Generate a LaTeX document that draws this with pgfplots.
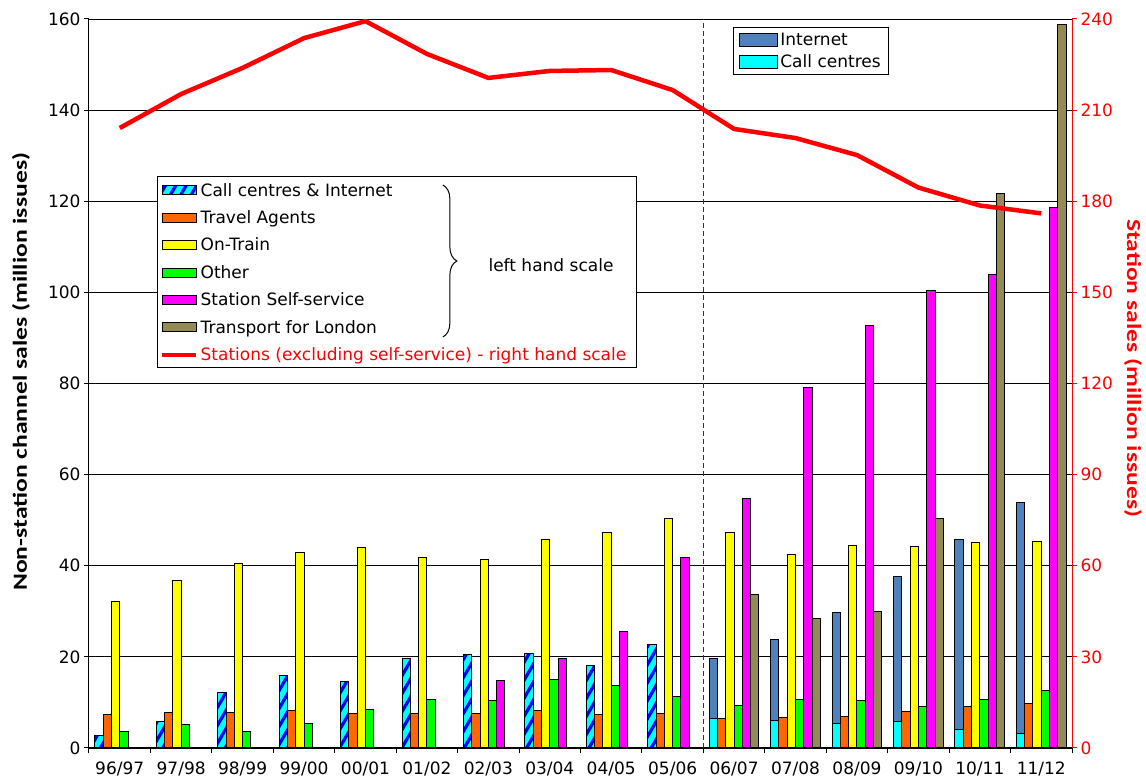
\documentclass[border=0pt]{standalone}
\usepackage{pgfplots}
\pgfplotsset{compat=1.18}
\usepackage{fontspec}
\setmainfont{DejaVu Sans}
\newfontfamily\labelfont{Carlito}
\usetikzlibrary{patterns.meta,decorations.pathreplacing}

\definecolor{ccblue}{HTML}{0000FF}
\definecolor{cccyan}{HTML}{00FFFF}
\definecolor{agent}{HTML}{FF6600}
\definecolor{ontrain}{HTML}{FFFF00}
\definecolor{other}{HTML}{00FF00}
\definecolor{selfserv}{HTML}{FF00FF}
\definecolor{tfl}{HTML}{948A54}
\definecolor{internet}{HTML}{4F81BD}

\newcommand{\tickfont}{\fontsize{17}{20}\selectfont}

\pgfplotsset{
  base/.style={scale only axis, width=983pt, height=729pt,
    xmin=-0.5, xmax=15.5, at={(0,0)}, anchor=south west},
  barstyle/.style={ybar, bar width=0.135, draw=black, line width=1pt},
  barleg/.style={legend image code/.code={\draw[##1, line width=1pt] (0pt,-4.5pt) rectangle (34pt,4.5pt);}},
  barleg2/.style={legend image code/.code={\draw[##1, line width=1pt] (0pt,-6.5pt) rectangle (38pt,6.5pt);}},
  lineleg/.style={legend image code/.code={\draw[##1] (0pt,0pt) -- (34pt,0pt);}},
  hatch/.style={fill=cccyan, postaction={pattern={Lines[angle=60,distance=9pt,line width=3.2pt]}, pattern color=ccblue}},
}

\begin{document}
\begin{tikzpicture}
% left-hand scale: non-station channels
\begin{axis}[base,
  ymin=0, ymax=160, ytick={0,20,...,160},
  axis x line*=bottom, axis y line*=left,
  axis line style={line width=1pt},
  ymajorgrids, grid style={black, line width=0.9pt},
  tick align=outside, major tick length=5pt,
  tick style={black, line width=1pt},
  xtick={-0.5,0.5,...,15.5},
  xticklabels={96/97,97/98,98/99,99/00,00/01,01/02,02/03,03/04,04/05,05/06,06/07,07/08,08/09,09/10,10/11,11/12,{}},
  x tick label style={xshift=30.72pt, yshift=-5pt, font=\tickfont},
  y tick label style={font=\tickfont},
  /pgf/number format/assume math mode=true,
  ylabel={\scalebox{1.28}[1]{\labelfont\bfseries\fontsize{20}{24}\selectfont Non-station channel sales (million issues)}},
  ylabel style={at={(rel axis cs:-0.0692,0.516)}, anchor=center},
  legend cell align=left,
  legend style={at={(rel axis cs:0.0722,0.7778)}, anchor=north west,
    draw=none, fill=none, font=\tickfont, row sep=9pt, inner sep=0pt},
]
\addplot[barstyle, bar shift=-0.3375, hatch, barleg] coordinates {
  (0,2.8) (1,5.9) (2,12.1) (3,16.0) (4,14.6) (5,19.6) (6,20.5) (7,20.8) (8,18.2) (9,22.7)};
\addlegendentry{Call centres \& Internet}
\addplot[barstyle, bar shift=-0.2025, fill=agent, barleg] coordinates {
  (0,7.3) (1,7.9) (2,7.8) (3,8.2) (4,7.6) (5,7.6) (6,7.6) (7,8.2) (8,7.4) (9,7.6)
  (10,6.4) (11,6.7) (12,7.0) (13,8.1) (14,9.0) (15,9.8)};
\addlegendentry{Travel Agents}
\addplot[barstyle, bar shift=-0.0675, fill=ontrain, barleg] coordinates {
  (0,32.2) (1,36.7) (2,40.5) (3,43.0) (4,43.9) (5,41.7) (6,41.3) (7,45.7) (8,47.2) (9,50.3)
  (10,47.3) (11,42.5) (12,44.5) (13,44.2) (14,45.0) (15,45.3)};
\addlegendentry{On-Train}
\addplot[barstyle, bar shift=0.0675, fill=other, barleg] coordinates {
  (0,3.7) (1,5.1) (2,3.7) (3,5.4) (4,8.4) (5,10.7) (6,10.5) (7,15.1) (8,13.8) (9,11.3)
  (10,9.3) (11,10.7) (12,10.4) (13,9.2) (14,10.6) (15,12.6)};
\addlegendentry{Other}
\addplot[barstyle, bar shift=0.2025, fill=selfserv, barleg] coordinates {
  (6,14.9) (7,19.7) (8,25.5) (9,41.9)
  (10,54.8) (11,79.2) (12,92.8) (13,100.5) (14,104.0) (15,118.6)};
\addlegendentry{Station Self-service}
\addplot[barstyle, bar shift=0.3375, fill=tfl, barleg] coordinates {
  (10,33.6) (11,28.5) (12,30.0) (13,50.3) (14,121.7) (15,158.7)};
\addlegendentry{Transport for London}
\addlegendimage{red, line width=4.5pt, lineleg}
\addlegendentry{\textcolor{red}{Stations (excluding self-service) - right hand scale}}

% break between the combined and the split call-centre/internet series
\draw[black!80, line width=0.9pt, dash pattern=on 5pt off 3pt]
  (axis cs:9.5,0) -- (axis cs:9.5,160);
% frame of the main key, with the brace grouping the left-hand-scale series
\draw[black, line width=1pt, fill=white]
  (rel axis cs:0.0692,0.7833) rectangle (rel axis cs:0.5565,0.5213);
\draw[line width=1pt, decorate, decoration={brace, amplitude=14pt}]
  (rel axis cs:0.360,0.7723) -- (rel axis cs:0.360,0.5638);
\node[font=\tickfont] at (rel axis cs:0.470,0.6626) {left hand scale};
\end{axis}

% right-hand scale: station sales
\begin{axis}[base,
  ymin=0, ymax=240, ytick={0,30,...,240},
  axis y line*=right, axis x line=none,
  y axis line style={red, line width=1pt},
  tick align=outside, major tick length=5pt,
  ytick style={red, line width=1pt},
  y tick label style={font=\tickfont, text=red},
  /pgf/number format/assume math mode=true,
  ylabel={\scalebox{1.28}[1]{\labelfont\bfseries\fontsize{20}{24}\selectfont\color{red} Station sales (million issues)}},
  ylabel style={at={(rel axis cs:1.062,0.521)}, anchor=center, rotate=180},
]
\addplot[red, line width=4.5pt, line join=round] coordinates {
  (0,204.1) (1,215.3) (2,223.9) (3,233.7) (4,239.3) (5,228.5) (6,220.6) (7,222.9)
  (8,223.2) (9,216.6) (10,203.8) (11,200.8) (12,195.2) (13,184.5) (14,178.6) (15,176.0)};
\end{axis}

% split call-centre / internet series from 06/07
\begin{axis}[base,
  ymin=0, ymax=160, hide axis,
  legend cell align=left,
  legend style={at={(rel axis cs:0.655,0.989)}, anchor=north west,
    draw=black, line width=1pt, fill=white, font=\tickfont, row sep=3pt,
    inner xsep=6pt, inner ysep=4pt},
]
\addplot[barstyle, bar shift=-0.3375, fill=internet, barleg2] coordinates {
  (10,19.7) (11,23.9) (12,29.7) (13,37.6) (14,45.8) (15,53.9)};
\addlegendentry{Internet}
\addplot[barstyle, bar shift=-0.3375, fill=cccyan, barleg2] coordinates {
  (10,6.4) (11,6.1) (12,5.4) (13,5.9) (14,4.1) (15,3.2)};
\addlegendentry{Call centres}
\end{axis}

\pgfresetboundingbox
\path[use as bounding box] (-89pt,-30pt) rectangle (1057pt,748pt);
\end{tikzpicture}
\end{document}
